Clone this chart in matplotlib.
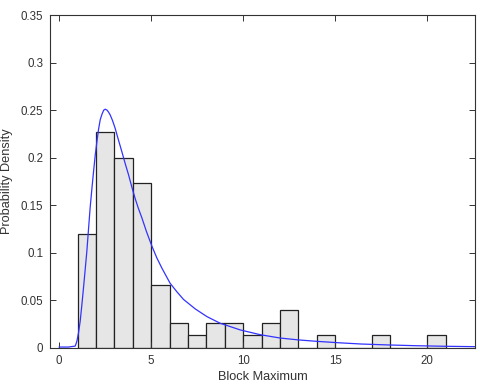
import matplotlib
matplotlib.use("Agg")
import matplotlib.pyplot as plt

plt.rcParams['font.family'] = ['Liberation Sans', 'DejaVu Sans']

# Histogram (bin left edges, width 1) and densities
bin_edges_left = [1, 2, 3, 4, 5, 6, 7, 8, 9, 10, 11, 12, 13, 14, 15, 16, 17, 18, 19, 20]
densities = [0.12, 0.2267, 0.2, 0.1733, 0.0667, 0.0267, 0.0133, 0.0267, 0.0267, 0.0133,
             0.0267, 0.04, 0.0, 0.0133, 0.0, 0.0, 0.0133, 0.0, 0.0, 0.0133]

# Fitted density curve
curve_x = [0.0, 0.5, 0.87, 0.96, 1.05, 1.14, 1.23, 1.32, 1.41, 1.5, 1.59, 1.68, 1.78, 1.87,
           1.96, 2.05, 2.14, 2.23, 2.33, 2.42, 2.5, 2.6, 2.68, 2.77, 2.9, 3.04, 3.2, 3.41,
           3.6, 3.77, 3.95, 4.13, 4.3, 4.49, 4.75, 5.04, 5.3, 5.58, 6.03, 6.4, 6.76, 7.4,
           8.03, 8.75, 9.84, 10.92, 12.0, 13.0, 14.0, 15.2, 16.4, 17.9, 19.4, 21.0, 22.6]
curve_y = [0.001, 0.001, 0.002, 0.007, 0.016, 0.028, 0.045, 0.063, 0.082, 0.101, 0.124,
           0.147, 0.168, 0.186, 0.203, 0.217, 0.230, 0.240, 0.246, 0.250, 0.251, 0.250,
           0.248, 0.245, 0.239, 0.231, 0.220, 0.206, 0.193, 0.182, 0.169, 0.157, 0.147,
           0.137, 0.122, 0.107, 0.095, 0.084, 0.068, 0.059, 0.051, 0.041, 0.033, 0.026,
           0.019, 0.014, 0.0105, 0.0085, 0.007, 0.0055, 0.0042, 0.0032, 0.0024, 0.0018,
           0.0014]

xticks = [0, 5, 10, 15, 20]
yticks = [0, 0.05, 0.1, 0.15, 0.2, 0.25, 0.3, 0.35]
ytick_labels = ['0', '0.05', '0.1', '0.15', '0.2', '0.25', '0.3', '0.35']

fig = plt.figure(figsize=(4.81, 3.92), dpi=100)
ax = fig.add_axes([50/481, 44/392, 425/481, 333/392])

ax.bar(bin_edges_left, densities, width=1.0, align='edge', color='#e6e6e6',
       edgecolor='#222222', linewidth=0.9)
ax.plot(curve_x, curve_y, color='#3333ff', linewidth=0.9)

ax.set_xlim(-0.5, 22.6)
ax.set_ylim(0, 0.35)
ax.set_xticks(xticks)
ax.set_xticklabels([str(t) for t in xticks])
ax.set_yticks(yticks)
ax.set_yticklabels(ytick_labels)
ax.tick_params(direction='in', top=True, right=True, length=4, width=0.7,
               labelsize=8.3, colors='#333333', labelcolor='#333333', pad=5)
for s in ax.spines.values():
    s.set_color('#333333')
    s.set_linewidth(0.8)

ax.set_xlabel('Block Maximum', fontsize=9.2, color='#333333')
ax.set_ylabel('Probability Density', fontsize=9.2, color='#333333')
ax.xaxis.set_label_coords(0.5, -0.069)
ax.yaxis.set_label_coords(-0.087, 0.5)

fig.savefig('out.png', dpi=100, facecolor='white')
